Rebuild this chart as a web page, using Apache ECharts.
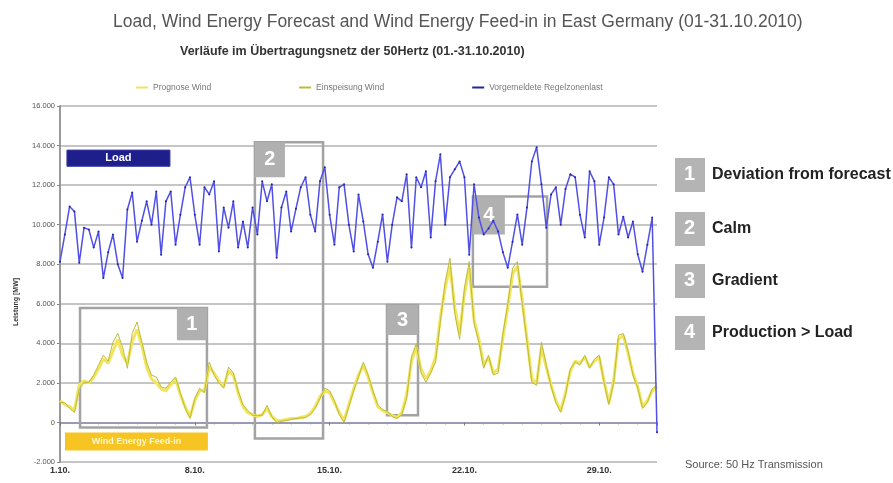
<!DOCTYPE html>
<html>
<head>
<meta charset="utf-8">
<script src="https://cdn.jsdelivr.net/npm/echarts@6/dist/echarts.min.js"></script>
<style>html,body{margin:0;padding:0;background:#fff}#c{width:893px;height:483px}</style>
</head>
<body>
<div id="c"></div>
<script>
// ---- data (4 samples per day, 01.10. 00:00 .. 31.10.) ----
const stepDays = 0.25;
const xTickLabels = ['1.10.', '8.10.', '15.10.', '22.10.', '29.10.'];
const loadValues = [
  8130, 9500, 10920, 10670, 8080, 9850, 9750, 8840, 9650, 7300,
  8600, 9500, 8000, 7300, 10770, 11630, 9140, 10200, 11180, 10000,
  11680, 8480, 11180, 11680, 8990, 10500, 11890, 12400, 10500, 8990,
  11890, 11530, 12190, 8640, 10870, 9850, 11180, 8840, 10160, 8840,
  10870, 9500, 12190, 11180, 12040, 8330, 10870, 11680, 9650, 10800,
  11890, 12400, 10500, 9650, 12190, 12900, 10500, 8990, 11890, 12040,
  10000, 8640, 11530, 10160, 8500, 7820, 9140, 10520, 8130, 10000,
  11380, 11180, 12550, 8840, 12400, 11890, 12700, 9350, 12190, 13560,
  10000, 12400, 12800, 13200, 12400, 8480, 12040, 10360, 9500, 9800,
  10200, 9650, 8600, 7820, 9140, 10520, 8990, 10870, 13200, 13920,
  12040, 9850, 11530, 11890, 10000, 11800, 12550, 12400, 10500, 9350,
  12700, 12190, 8990, 10360, 12400, 12040, 9500, 10400, 9350, 10160,
  8500, 7620, 8990, 10360, -500
];
const windFeedIn = [
  1020, 1000, 710, 510, 1700, 2030, 2030, 2390, 2900, 3400,
  3100, 4060, 4500, 3800, 2740, 4500, 5080, 4060, 3050, 2390,
  2300, 1800, 1730, 2030, 2300, 1500, 710, 200, 1220, 1730,
  1500, 3050, 2390, 2000, 1730, 2800, 2500, 1600, 900, 600,
  360, 360, 360, 860, 300, 0, 60, 100, 150, 200,
  220, 250, 400, 710, 1200, 1730, 1600, 1100, 400, 0,
  800, 1600, 2300, 3050, 2400, 1600, 900, 650, 550, 300,
  200, 400, 1200, 3300, 4000, 2500, 2030, 2500, 3050, 5080,
  7110, 8300, 5500, 4200, 6800, 8130, 5000, 4060, 2740, 3400,
  2400, 2500, 4500, 6000, 7800, 8130, 6000, 4060, 2030, 1880,
  4060, 2900, 1800, 1000, 510, 1400, 2700, 3050, 2900, 3400,
  2740, 3200, 3400, 2000, 900, 2000, 4400, 4500, 3600, 2390,
  1730, 710, 1000, 1700, 1900
];
const windForecast = [
  1100, 900, 800, 600, 1900, 2100, 2000, 2300, 2700, 3200,
  3000, 3600, 4200, 3400, 3000, 4100, 4700, 3900, 2800, 2200,
  2000, 1700, 1600, 1900, 2200, 1400, 800, 300, 1100, 1600,
  1600, 2800, 2500, 2100, 1800, 2600, 2400, 1500, 800, 500,
  400, 300, 400, 700, 300, 100, 100, 150, 200, 200,
  250, 300, 450, 800, 1300, 1600, 1500, 1000, 500, 100,
  900, 1700, 2400, 2900, 2300, 1500, 800, 600, 500, 350,
  250, 500, 1400, 3100, 3800, 2700, 2200, 2600, 3300, 5300,
  6800, 7900, 5800, 4500, 6500, 7800, 5200, 4200, 2900, 3300,
  2500, 2700, 4300, 5800, 7500, 7900, 6200, 4200, 2200, 2000,
  3800, 2800, 1900, 1100, 600, 1500, 2600, 3100, 3000, 3300,
  2800, 3100, 3300, 2100, 1000, 2100, 4200, 4400, 3500, 2500,
  1800, 800, 1100, 1600, 1800
];
const seriesNames = ['Prognose Wind', 'Einspeisung Wind', 'Vorgemeldete Regelzonenlast'];
// annotation boxes in data space: [dayFrom, dayTo, valueTop, valueBottom]
const boxes = [[1.04, 7.63, 5790, -250], [10.12, 13.66, 14170, -810], [16.98, 18.59, 5940, 360], [21.44, 25.29, 11430, 6860]];
const boxTags = [[6.07, 7.63, 5790, 4160, '1'], [10.12, 11.68, 14170, 12400, '2'], [16.98, 18.59, 5940, 4420, '3'], [21.44, 23.10, 11430, 9500, '4']];
const notes = ['Deviation from forecast', 'Calm', 'Gradient', 'Production > Load'];

const toXY = arr => arr.map((v, i) => [i * stepDays, v]);
const fmtY = v => v === 0 ? '0' : (v < 0 ? '-' : '') + Math.abs(v / 1000) + '.000';

const markData = [];
boxes.forEach(b => markData.push([
  { xAxis: b[0], yAxis: b[2], itemStyle: { color: 'rgba(0,0,0,0)', borderColor: '#a3a3a3', borderWidth: 2.5 } },
  { xAxis: b[1], yAxis: b[3] }
]));
boxTags.forEach(t => markData.push([
  { xAxis: t[0], yAxis: t[2], itemStyle: { color: '#b0b0b0', borderWidth: 0 },
    label: { show: true, position: 'inside', formatter: t[4], color: '#fff', fontSize: 20, fontWeight: 'bold' } },
  { xAxis: t[1], yAxis: t[3] }
]));
markData.push([
  { xAxis: 0.36, yAxis: 13770, itemStyle: { color: '#1f1f8c', borderColor: '#3b3ba8', borderWidth: 1 },
    label: { show: true, position: 'inside', formatter: 'Load', color: '#fff', fontSize: 11, fontWeight: 'bold' } },
  { xAxis: 5.71, yAxis: 12950 }
]);
markData.push([
  { xAxis: 0.26, yAxis: -510, itemStyle: { color: '#f6c524', borderWidth: 0 },
    label: { show: true, position: 'inside', formatter: 'Wind Energy Feed-in', color: '#fff6d0', fontSize: 9, fontWeight: 'bold' } },
  { xAxis: 7.68, yAxis: -1420 }
]);

const graphics = [];
notes.forEach((n, i) => {
  const top = [158, 212, 264, 316][i];
  graphics.push({ type: 'rect', left: 675, top: top, shape: { width: 30, height: 34 }, style: { fill: '#b4b4b4' } });
  graphics.push({ type: 'text', left: 684, top: top + 6, style: { text: String(i + 1), fill: '#fff', font: 'bold 20px Liberation Sans' } });
  graphics.push({ type: 'text', left: 712, top: top + 9, style: { text: n, fill: '#222', font: 'bold 16px Liberation Sans' } });
});
graphics.push({ type: 'text', left: 685, top: 459, style: { text: 'Source: 50 Hz Transmission', fill: '#555', font: '11px Liberation Sans' } });
graphics.push({ type: 'text', x: 16, y: 302, rotation: Math.PI / 2,
  style: { text: 'Leistung [MW]', fill: '#333', font: 'bold 7px Liberation Sans', textAlign: 'center', textVerticalAlign: 'middle' } });

const chart = echarts.init(document.getElementById('c'), null, { renderer: 'canvas' });
chart.setOption({
  animation: false,
  backgroundColor: '#fff',
  textStyle: { fontFamily: 'Liberation Sans, Arial, sans-serif' },
  title: [
    { text: 'Load, Wind Energy Forecast and Wind Energy Feed-in in East Germany (01-31.10.2010)', left: 108, top: 8,
      textStyle: { fontSize: 17.5, fontWeight: 'normal', color: '#555' } },
    { text: 'Verläufe im Übertragungsnetz der 50Hertz (01.-31.10.2010)', left: 175, top: 40,
      textStyle: { fontSize: 12.5, fontWeight: 'bold', color: '#333' } }
  ],
  legend: {
    data: seriesNames, top: 78, left: 131, itemGap: 88, itemWidth: 12, itemHeight: 2, icon: 'rect',
    textStyle: { fontSize: 8.5, color: '#777' }
  },
  grid: { left: 60, right: 236, top: 106, bottom: 21, containLabel: false },
  graphic: graphics,
  xAxis: {
    type: 'value', min: 0, max: 31, interval: 7,
    axisLine: { show: true, lineStyle: { color: '#8c8cb0', width: 1.5 } },
    axisTick: { show: true, length: 3, lineStyle: { color: '#777' } },
    minorTick: { show: true, splitNumber: 7, length: 2, lineStyle: { color: '#999' } },
    axisLabel: { formatter: v => (v % 7 === 0 ? xTickLabels[v / 7] || '' : ''), fontSize: 9, fontWeight: 'bold', color: '#333', margin: 4 },
    splitLine: { show: false }
  },
  yAxis: {
    type: 'value', min: -2000, max: 16000, interval: 2000,
    axisLine: { show: true, lineStyle: { color: '#9a9a9a', width: 2 } },
    axisTick: { show: true, length: 3, lineStyle: { color: '#888' } },
    axisLabel: { formatter: fmtY, fontSize: 7.5, color: '#555', margin: 5 },
    splitLine: { show: true, lineStyle: { color: '#b2b2b2', width: 1.5 } }
  },
  series: [
    { name: seriesNames[0], type: 'line', data: toXY(windForecast), showSymbol: false,
      itemStyle: { color: '#f2e45c' }, lineStyle: { color: '#f2e45c', width: 3 } },
    { name: seriesNames[1], type: 'line', data: toXY(windFeedIn), showSymbol: false,
      itemStyle: { color: '#bcbc3a' }, lineStyle: { color: '#bcbc3a', width: 1 } },
    { name: seriesNames[2], type: 'line', data: toXY(loadValues), symbol: 'circle', symbolSize: 2, showSymbol: true,
      itemStyle: { color: '#25259e' }, lineStyle: { color: '#5050e6', width: 1.5 } },
    { name: 'annotations', type: 'line', data: [], markArea: { silent: true, data: markData } }
  ]
});
</script>
</body>
</html>
